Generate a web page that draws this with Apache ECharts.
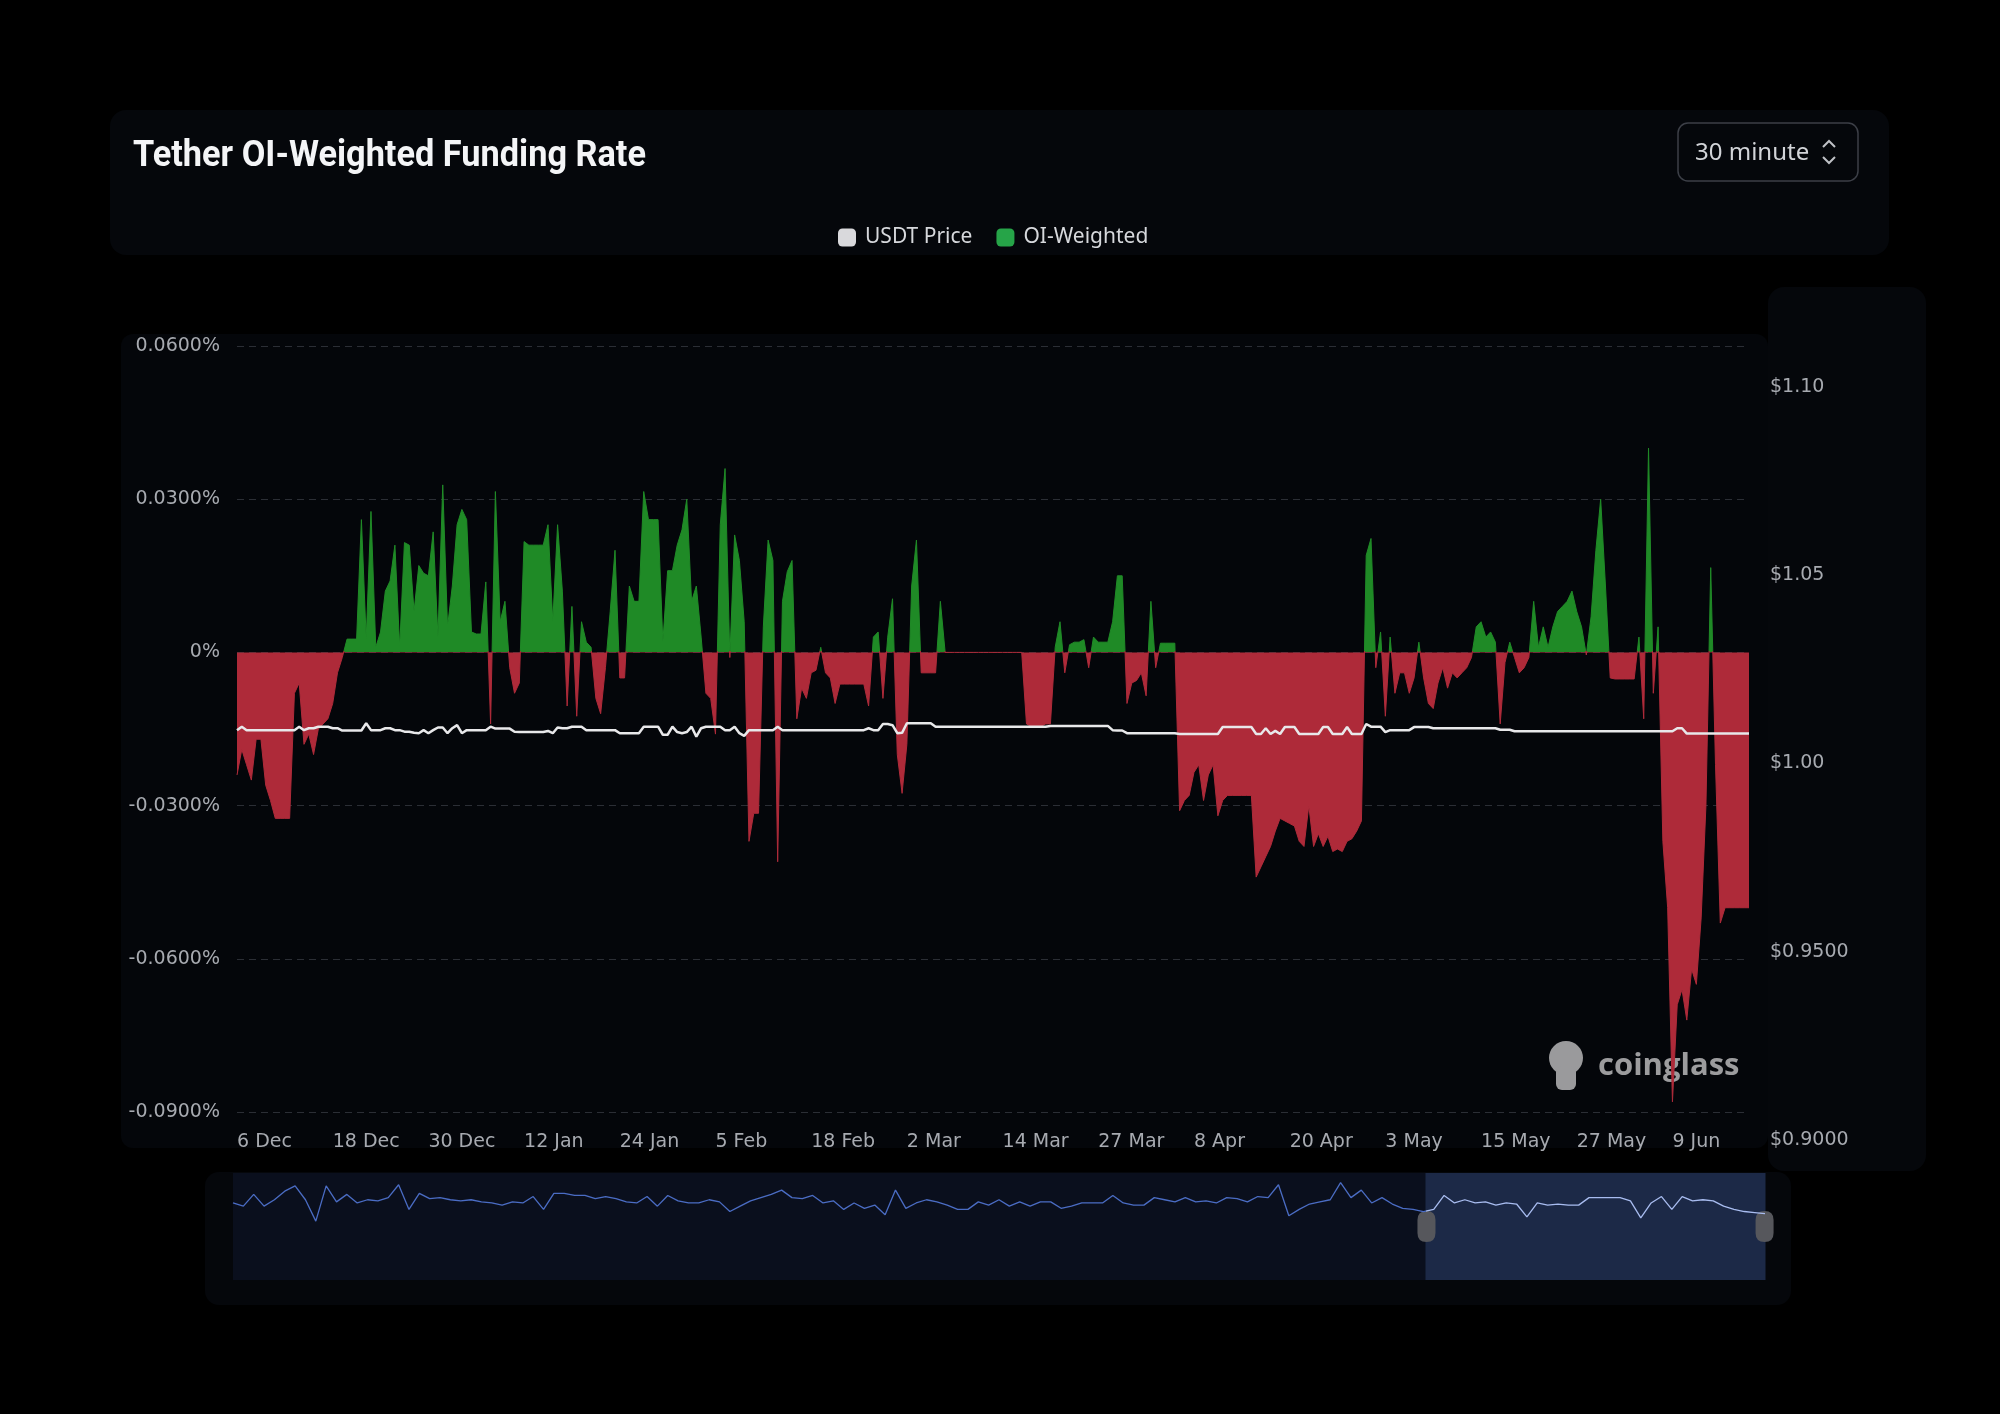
<!DOCTYPE html>
<html>
<head>
<meta charset="utf-8">
<script src="https://cdn.jsdelivr.net/npm/echarts@6/dist/echarts.min.js"></script>
<style>
  html, body { margin: 0; padding: 0; background: #000000; }
  #chart { width: 2000px; height: 1414px; }
</style>
</head>
<body>
<div id="chart"></div>
<script>
// ---------------- DATA ----------------
const titleText = 'Tether OI-Weighted Funding Rate';
const intervalText = '30 minute';
const seriesNames = ['USDT Price', 'OI-Weighted'];

// x-axis tick labels (one every POINTS_PER_TICK samples)
const tickLabels = ['6 Dec', '18 Dec', '30 Dec', '12 Jan', '24 Jan', '5 Feb', '18 Feb', '2 Mar',
  '14 Mar', '27 Mar', '8 Apr', '20 Apr', '3 May', '15 May', '27 May', '9 Jun'];
const POINTS_PER_TICK = 20;

// OI-weighted funding rate, in percent
const fundingRate = [
  -0.024, -0.019, -0.022, -0.025, -0.017, -0.017, -0.026, -0.029, -0.0325, -0.0325,
  -0.0325, -0.0325, -0.008, -0.006, -0.018, -0.016, -0.020, -0.015, -0.014, -0.013,
  -0.010, -0.004, -0.001, 0.0026, 0.0026, 0.0026, 0.026, 0.0026, 0.0276, 0.001,
  0.004, 0.012, 0.014, 0.021, 0.001, 0.0215, 0.021, 0.008, 0.017, 0.0155,
  0.015, 0.0236, 0.003, 0.0328, 0.005, 0.013, 0.025, 0.028, 0.026, 0.004,
  0.0036, 0.0036, 0.0138, -0.014, 0.0315, 0.006, 0.010, -0.003, -0.008, -0.006,
  0.0217, 0.021, 0.021, 0.021, 0.021, 0.025, 0.006, 0.025, 0.012, -0.0105,
  0.009, -0.0125, 0.006, 0.002, 0.001, -0.009, -0.012, -0.003, 0.008, 0.020,
  -0.005, -0.005, 0.013, 0.010, 0.010, 0.0315, 0.026, 0.026, 0.026, 0.002,
  0.016, 0.016, 0.021, 0.024, 0.030, 0.010, 0.013, 0.003, -0.008, -0.009,
  -0.016, 0.025, 0.036, -0.001, 0.023, 0.018, 0.006, -0.037, -0.0315, -0.0315,
  0.005, 0.022, 0.018, -0.041, 0.010, 0.0158, 0.018, -0.013, -0.007, -0.009,
  -0.004, -0.0035, 0.001, -0.004, -0.005, -0.010, -0.0062, -0.0062, -0.0062, -0.0062,
  -0.0062, -0.0062, -0.0105, 0.003, 0.004, -0.009, 0.003, 0.0105, -0.020, -0.0276,
  -0.018, 0.013, 0.022, -0.004, -0.004, -0.004, -0.004, 0.010, 0, 0,
  0, 0, 0, 0, 0, 0, 0, 0, 0, 0,
  0, 0, 0, 0, 0, -0.014, -0.0145, -0.0145, -0.0145, -0.014,
  -0.014, 0.001, 0.006, -0.004, 0.0015, 0.002, 0.002, 0.0025, -0.003, 0.003,
  0.002, 0.002, 0.002, 0.006, 0.015, 0.015, -0.010, -0.006, -0.0055, -0.004,
  -0.0085, 0.010, -0.003, 0.0018, 0.0018, 0.0018, 0.0018, -0.031, -0.029, -0.028,
  -0.0235, -0.022, -0.029, -0.024, -0.022, -0.032, -0.029, -0.028, -0.028, -0.028,
  -0.028, -0.028, -0.028, -0.044, -0.042, -0.040, -0.038, -0.035, -0.0325, -0.033,
  -0.0335, -0.034, -0.037, -0.038, -0.030, -0.038, -0.0355, -0.038, -0.036, -0.039,
  -0.0385, -0.039, -0.037, -0.0365, -0.035, -0.033, 0.019, 0.0223, -0.003, 0.004,
  -0.0125, 0.003, -0.008, -0.004, -0.004, -0.008, -0.005, 0.002, -0.005, -0.010,
  -0.011, -0.006, -0.003, -0.007, -0.004, -0.005, -0.004, -0.003, -0.001, 0.005,
  0.006, 0.003, 0.004, 0.002, -0.014, -0.002, 0.002, -0.001, -0.004, -0.003,
  -0.001, 0.010, 0.001, 0.005, 0.001, 0.005, 0.008, 0.009, 0.010, 0.012,
  0.008, 0.005, -0.0005, 0.007, 0.020, 0.030, 0.013, -0.005, -0.0052, -0.0052,
  -0.0052, -0.0052, -0.0052, 0.003, -0.013, 0.040, -0.008, 0.005, -0.037, -0.050,
  -0.088, -0.069, -0.066, -0.072, -0.062, -0.065, -0.052, -0.030, 0.0166, -0.022,
  -0.053, -0.050, -0.050, -0.050, -0.050, -0.050, -0.050
];

// USDT price, in USD
const usdtPrice = [
  0.9997, 1.0006, 0.9997, 0.9997, 0.9997, 0.9997, 0.9997, 0.9997, 0.9997, 0.9997,
  0.9997, 0.9997, 0.9997, 1.0006, 0.9997, 1.0002, 1.0002, 1.0006, 1.0006, 1.0006,
  1.0002, 1.0002, 0.9996, 0.9996, 0.9996, 0.9996, 0.9996, 1.0015, 0.9997, 0.9997,
  0.9997, 1.0002, 1.0002, 0.9997, 0.9997, 0.9993, 0.9993, 0.9990, 0.9989, 0.9997,
  0.9989, 0.9997, 1.0004, 1.0004, 0.9989, 1.0002, 1.0010, 0.9989, 0.9997, 0.9997,
  0.9997, 0.9997, 0.9997, 1.0006, 1.0001, 1.0001, 1.0001, 1.0001, 0.9993, 0.9992,
  0.9992, 0.9992, 0.9992, 0.9992, 0.9992, 0.9995, 0.9989, 1.0004, 1.0002, 1.0002,
  1.0006, 1.0006, 1.0006, 0.9997, 0.9997, 0.9997, 0.9997, 0.9997, 0.9997, 0.9997,
  0.9989, 0.9989, 0.9989, 0.9989, 0.9989, 1.0006, 1.0006, 1.0006, 1.0006, 0.9985,
  0.9985, 1.0006, 0.9992, 0.9989, 0.9992, 1.0006, 0.9980, 1.0002, 1.0006, 1.0006,
  1.0006, 1.0006, 0.9997, 0.9997, 1.0006, 0.9989, 0.9982, 0.9997, 0.9997, 0.9997,
  0.9997, 0.9997, 0.9997, 1.0006, 0.9997, 0.9997, 0.9997, 0.9997, 0.9997, 0.9997,
  0.9997, 0.9997, 0.9997, 0.9997, 0.9997, 0.9997, 0.9997, 0.9997, 0.9997, 0.9997,
  0.9997, 0.9997, 1.0002, 0.9997, 0.9997, 1.0013, 1.0013, 1.0010, 0.9989, 0.9990,
  1.0015, 1.0015, 1.0015, 1.0015, 1.0015, 1.0015, 1.0006, 1.0006, 1.0006, 1.0006,
  1.0006, 1.0006, 1.0006, 1.0006, 1.0006, 1.0006, 1.0006, 1.0006, 1.0006, 1.0006,
  1.0006, 1.0006, 1.0006, 1.0006, 1.0006, 1.0006, 1.0006, 1.0006, 1.0006, 1.0006,
  1.0008, 1.0008, 1.0008, 1.0008, 1.0008, 1.0008, 1.0008, 1.0008, 1.0008, 1.0008,
  1.0008, 1.0008, 1.0008, 0.9997, 0.9996, 0.9996, 0.9989, 0.9989, 0.9989, 0.9989,
  0.9989, 0.9989, 0.9989, 0.9989, 0.9989, 0.9989, 0.9989, 0.9987, 0.9987, 0.9987,
  0.9987, 0.9987, 0.9987, 0.9987, 0.9987, 0.9987, 1.0005, 1.0005, 1.0005, 1.0005,
  1.0005, 1.0005, 1.0005, 0.9987, 0.9987, 1.0002, 0.9987, 0.9995, 0.9987, 1.0005,
  1.0005, 1.0005, 0.9987, 0.9987, 0.9987, 0.9987, 0.9987, 1.0005, 1.0005, 0.9987,
  0.9987, 0.9987, 1.0005, 0.9987, 0.9987, 0.9987, 1.0013, 1.0006, 1.0006, 1.0006,
  0.9992, 0.9997, 0.9997, 0.9997, 0.9997, 0.9997, 1.0005, 1.0005, 1.0005, 1.0005,
  1.0002, 1.0002, 1.0002, 1.0002, 1.0002, 1.0002, 1.0002, 1.0002, 1.0002, 1.0002,
  1.0002, 1.0002, 1.0002, 1.0002, 0.9998, 0.9998, 0.9998, 0.9994, 0.9994, 0.9994,
  0.9994, 0.9994, 0.9994, 0.9994, 0.9994, 0.9994, 0.9994, 0.9994, 0.9994, 0.9994,
  0.9994, 0.9994, 0.9994, 0.9994, 0.9994, 0.9994, 0.9994, 0.9994, 0.9994, 0.9994,
  0.9994, 0.9994, 0.9994, 0.9994, 0.9994, 0.9994, 0.9994, 0.9994, 0.9994, 0.9994,
  0.9994, 1.0002, 1.0002, 0.9988, 0.9988, 0.9988, 0.9988, 0.9988, 0.9988, 0.9988,
  0.9988, 0.9988, 0.9988, 0.9988, 0.9988, 0.9988, 0.9988
];

// overview (navigator) line shown in the slider, relative level 0-100
const navigatorValues = [
  72, 69, 80, 69, 75, 83, 88, 75, 55, 88,
  73, 80, 72, 75, 74, 77, 89, 66, 81, 76,
  77, 75, 74, 75, 73, 72, 70, 73, 72, 78,
  66, 81, 81, 79, 79, 76, 78, 76, 73, 72,
  78, 69, 79, 74, 72, 72, 75, 73, 64, 69,
  74, 77, 80, 84, 77, 76, 79, 72, 74, 66,
  72, 67, 70, 61, 84, 67, 72, 75, 73, 70,
  66, 66, 73, 70, 75, 69, 73, 69, 73, 73,
  67, 69, 72, 72, 72, 79, 72, 70, 70, 77,
  75, 73, 77, 73, 74, 72, 77, 76, 73, 78,
  77, 89, 60, 66, 71, 73, 75, 91, 77, 84,
  72, 77, 71, 67, 66, 64, 66, 79, 72, 75,
  72, 73, 70, 72, 71, 59, 72, 70, 71, 70,
  70, 77, 77, 77, 77, 74, 58, 72, 78, 66,
  78, 74, 75, 74, 69, 66, 64, 63, 62
];

const rateAxis = { min: -0.09, max: 0.06, interval: 0.03 };
const priceAxis = { min: 0.9, max: 1.1, interval: 0.05 };
const zoomWindow = { start: 77.8, end: 100 };

// ---------------- CHART ----------------
const categories = fundingRate.map((_, i) => String(i));
const navCategories = navigatorValues.map((_, i) => String(i));

const GREEN = '#1f8a26', RED = '#ae2a39';
// vertical split of the area colour exactly at the zero level of the data's own extent
const rateMax = Math.max(...fundingRate), rateMin = Math.min(...fundingRate);
const zeroFrac = rateMax / (rateMax - rateMin);
const signGradient = new echarts.graphic.LinearGradient(0, 0, 0, 1, [
  { offset: 0, color: GREEN }, { offset: zeroFrac, color: GREEN },
  { offset: zeroFrac, color: RED }, { offset: 1, color: RED }
]);
// horizontal split of the navigator line at the slider window start
const navFrac = zoomWindow.start / 100;
const navGradient = new echarts.graphic.LinearGradient(0, 0, 1, 0, [
  { offset: 0, color: '#4a6cc4' }, { offset: navFrac, color: '#4a6cc4' },
  { offset: navFrac, color: '#a8bcf0' }, { offset: 1, color: '#a8bcf0' }
]);

const axisFont = "'DejaVu Sans', Verdana, sans-serif";
const uiFont = "'Noto Sans', 'Open Sans', sans-serif";
const labelColor = '#a7aab0';

// fit title to measured width
const measureCtx = document.createElement('canvas').getContext('2d');
const titleFont = "bold 36px Roboto, 'Noto Sans', sans-serif";
measureCtx.font = titleFont;
const titleScale = 513 / measureCtx.measureText(titleText).width;

const chart = echarts.init(document.getElementById('chart'), null, { renderer: 'canvas' });

const option = {
  backgroundColor: '#000000',
  animation: false,
  legend: {
    data: [
      { name: seriesNames[0], itemStyle: { color: '#d9d9dc' } },
      { name: seriesNames[1], itemStyle: { color: '#26a448' } }
    ],
    left: 833, top: 222,
    icon: 'roundRect',
    itemWidth: 18, itemHeight: 18, itemGap: 24,
    textStyle: { color: '#d6d8dc', fontSize: 21, fontFamily: uiFont, padding: [0, 0, 0, 4] },
    selectedMode: false
  },
  grid: [
    { left: 237, right: 251, top: 346, bottom: 302 },          // main
    { left: 1768, width: 1, top: 387, height: 753 },             // right price labels
    { left: 233, right: 235, top: 1173, height: 107 },           // navigator
    { left: 233, right: 235, top: 1173, height: 107 }            // slider host
  ],
  xAxis: [
    {
      type: 'category', gridIndex: 0, data: categories, boundaryGap: false,
      axisLine: { show: false }, axisTick: { show: false }, splitLine: { show: false },
      axisLabel: {
        interval: POINTS_PER_TICK - 1, align: 'left', margin: 21,
        color: labelColor, fontSize: 19, fontFamily: axisFont,
        formatter: (v, i) => tickLabels[i / POINTS_PER_TICK] || ''
      }
    },
    { type: 'value', gridIndex: 1, min: 0, max: 1, show: false },
    { type: 'category', gridIndex: 2, data: navCategories, boundaryGap: false, show: false },
    { type: 'category', gridIndex: 3, data: navCategories, boundaryGap: false, show: false }
  ],
  yAxis: [
    {
      type: 'value', gridIndex: 0, min: rateAxis.min, max: rateAxis.max, interval: rateAxis.interval,
      axisLine: { show: false }, axisTick: { show: false },
      splitLine: { show: true, lineStyle: { color: '#2b2e35', width: 1, type: [7, 5] } },
      axisLabel: {
        margin: 17, color: labelColor, fontSize: 19, fontFamily: axisFont,
        formatter: v => Math.abs(v) < 1e-9 ? '0%' : v.toFixed(4) + '%'
      }
    },
    { type: 'value', gridIndex: 0, min: priceAxis.min, max: priceAxis.max, show: false, position: 'right' },
    {
      type: 'value', gridIndex: 1, min: priceAxis.min, max: priceAxis.max, interval: priceAxis.interval,
      position: 'left',
      axisLine: { show: false }, axisTick: { show: false }, splitLine: { show: false },
      axisLabel: {
        inside: true, margin: 2, color: labelColor, fontSize: 19, fontFamily: axisFont,
        formatter: v => '$' + (v >= 0.999 ? v.toFixed(2) : v.toFixed(4))
      }
    },
    { type: 'value', gridIndex: 2, min: 0, max: 100, show: false },
    { type: 'value', gridIndex: 3, min: 0, max: 100, show: false }
  ],
  dataZoom: [
    {
      type: 'slider', xAxisIndex: 3, start: zoomWindow.start, end: zoomWindow.end,
      left: 233, right: 235, top: 1173, height: 107,
      showDataShadow: false, showDetail: false, brushSelect: false,
      moveHandleSize: 0, moveHandleStyle: { opacity: 0 },
      backgroundColor: 'rgba(0,0,0,0)', borderColor: 'rgba(0,0,0,0)',
      fillerColor: 'rgba(40,58,100,0.6)',
      handleIcon: 'path://M9,0 Q18,0 18,9 L18,22 Q18,31 9,31 Q0,31 0,22 L0,9 Q0,0 9,0 Z',
      handleSize: '29%',
      handleStyle: { color: '#56575c', borderColor: '#56575c', borderWidth: 0 },
      emphasis: { handleStyle: { color: '#56575c', borderColor: '#56575c' } },
      z: 2
    }
  ],
  series: [
    {
      name: seriesNames[0], type: 'line', xAxisIndex: 0, yAxisIndex: 1,
      data: usdtPrice, symbol: 'none', z: 5,
      itemStyle: { color: '#e8e8ea' },
      lineStyle: { color: '#e8e8ea', width: 2.5 }
    },
    {
      name: seriesNames[1], type: 'line', xAxisIndex: 0, yAxisIndex: 0,
      data: fundingRate, symbol: 'none', z: 3,
      itemStyle: { color: '#26a448' },
      lineStyle: { width: 1, color: signGradient },
      areaStyle: { opacity: 1, origin: 0, color: signGradient }
    },
    {
      name: 'navigator', type: 'line', xAxisIndex: 2, yAxisIndex: 3,
      data: navigatorValues, symbol: 'none', silent: true, z: 4,
      lineStyle: { width: 1.3, color: navGradient }
    },
    {
      name: 'sliderHost', type: 'line', xAxisIndex: 3, yAxisIndex: 4,
      data: navigatorValues, symbol: 'none', silent: true, z: 0,
      lineStyle: { opacity: 0 }
    }
  ],
  graphic: [
    // panels
    { type: 'rect', z: 0, shape: { x: 110, y: 110, width: 1779, height: 145, r: 16 }, style: { fill: '#05070b' }, silent: true },
    { type: 'rect', z: 0, shape: { x: 121, y: 334, width: 1647, height: 814, r: 12 }, style: { fill: '#04060a' }, silent: true },
    { type: 'rect', z: 0, shape: { x: 1768, y: 287, width: 158, height: 884, r: 16 }, style: { fill: '#05070b' }, silent: true },
    { type: 'rect', z: 0, shape: { x: 205, y: 1172, width: 1586, height: 133, r: 14 }, style: { fill: '#05070b' }, silent: true },
    { type: 'rect', z: 1, shape: { x: 233, y: 1173, width: 1532, height: 107 }, style: { fill: '#0a0f1d' }, silent: true },
    // title
    {
      type: 'text', z: 10, x: 133, y: 157, scaleX: titleScale, silent: true,
      style: { text: titleText, font: titleFont, fill: '#f4f5f7', verticalAlign: 'middle', align: 'left' }
    },
    // interval selector
    { type: 'rect', z: 10, shape: { x: 1678, y: 123, width: 180, height: 58, r: 10 }, style: { fill: 'none', stroke: '#3c3f47', lineWidth: 1.5 }, silent: true },
    { type: 'text', z: 10, x: 1695, y: 153, silent: true, style: { text: intervalText, fontSize: 24, fontFamily: uiFont, fill: '#d2d4d8', verticalAlign: 'middle' } },
    { type: 'polyline', z: 10, shape: { points: [[1823, 147], [1829, 141], [1835, 147]] }, style: { stroke: '#bfc1c6', lineWidth: 2, fill: 'none' }, silent: true },
    { type: 'polyline', z: 10, shape: { points: [[1823, 157], [1829, 163], [1835, 157]] }, style: { stroke: '#bfc1c6', lineWidth: 2, fill: 'none' }, silent: true },
    // watermark
    { type: 'circle', z: 1, shape: { cx: 1566, cy: 1058, r: 17 }, style: { fill: '#9a9a9c' }, silent: true },
    { type: 'rect', z: 1, shape: { x: 1556, y: 1066, width: 20, height: 24, r: 6 }, style: { fill: '#9a9a9c' }, silent: true },
    { type: 'text', z: 1, x: 1598, y: 1066, silent: true, style: { text: 'coinglass', fontSize: 31, fontWeight: 'bold', fontFamily: "'Open Sans', 'Noto Sans', sans-serif", fill: '#9c9c9e', verticalAlign: 'middle' } }
  ]
};

chart.setOption(option);
</script>
</body>
</html>
